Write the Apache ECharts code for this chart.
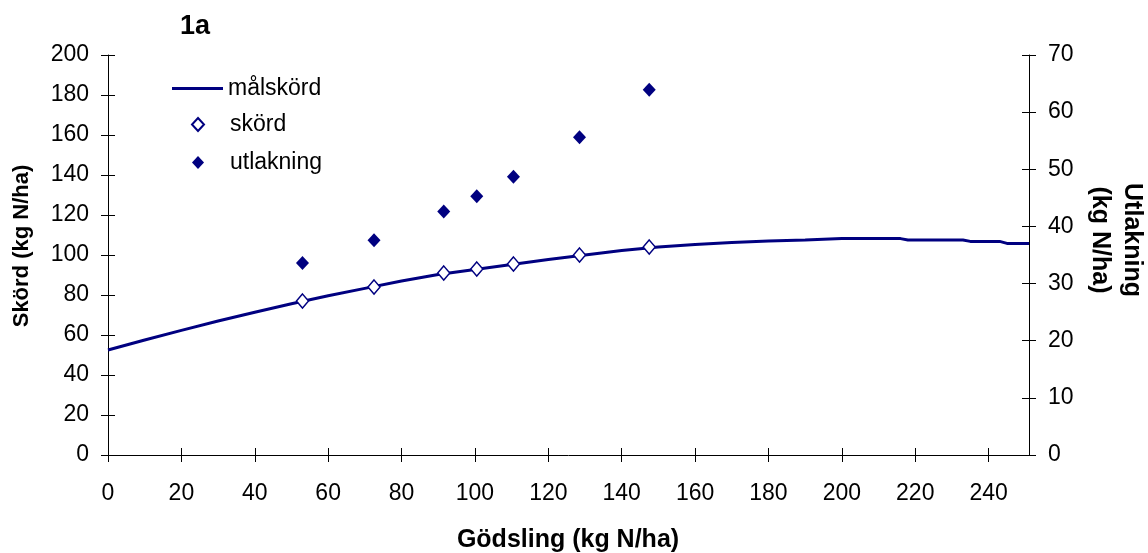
<!DOCTYPE html>
<html>
<head>
<meta charset="utf-8">
<script src="https://cdn.jsdelivr.net/npm/echarts@6/dist/echarts.min.js"></script>
<style>
html,body{margin:0;padding:0;background:#fff;}
#chart{width:1148px;height:553px;}
</style>
</head>
<body>
<div id="chart"></div>
<script>
// ---- data ----
const curveN = [0, 10, 20, 30, 40, 50, 60, 70, 80, 90, 100, 110, 120, 130, 140, 150, 160, 170, 180, 190, 200, 216, 218, 233, 235, 243, 245, 251];
const maalskord = [52.5, 57.5, 62.3, 67.0, 71.4, 75.6, 79.6, 83.3, 87.0, 90.3, 92.8, 95.2, 97.7, 100.0, 102.2, 104.0, 105.3, 106.3, 107.0, 107.5, 108.2, 108.2, 107.5, 107.5, 106.8, 106.8, 105.8, 105.8];
const pointN = [53, 72.5, 91.5, 100.5, 110.5, 128.5, 147.5];
const skord = [77, 84, 91, 93, 95.5, 100, 104];
const utlakning = [33.6, 37.6, 42.6, 45.3, 48.7, 55.6, 63.9];
const xTicks = {min: 0, max: 251, interval: 20};
const yLeftTicks = {min: 0, max: 200, interval: 20};
const yRightTicks = {min: 0, max: 70, interval: 10};

// ---- chart ----
const F = '"Liberation Sans", Arial, sans-serif';
const NAVY = '#000080';
const chart = echarts.init(document.getElementById('chart'), null, {renderer: 'canvas'});

function axisBase(t) {
  return {
    type: 'value', min: t.min, max: t.max, interval: t.interval,
    splitLine: {show: false},
    axisLine: {show: true, onZero: false, lineStyle: {color: '#000', width: 1}},
    axisTick: {show: true, length: 7, lineStyle: {color: '#000', width: 1}},
  };
}
function labelStyle(margin) {
  return {show: true, fontFamily: F, fontSize: 23, color: '#000', margin: margin, showMaxLabel: true};
}
function innerTicks(a) {
  a.axisLine = {show: false, onZero: false};
  a.axisLabel = {show: false};
  a.axisTick = {show: true, inside: true, length: 7, lineStyle: {color: '#000', width: 1}};
  return a;
}

const xMain = Object.assign(axisBase(xTicks), {position: 'bottom', axisLabel: Object.assign(labelStyle(27), {showMaxLabel: false})});
const xInner = innerTicks(Object.assign(axisBase(xTicks), {position: 'bottom'}));
const yL = Object.assign(axisBase(yLeftTicks), {position: 'left', axisLabel: labelStyle(19)});
const yR = Object.assign(axisBase(yRightTicks), {position: 'right', axisLabel: labelStyle(19)});
const yLIn = innerTicks(Object.assign(axisBase(yLeftTicks), {position: 'left'}));
const yRIn = innerTicks(Object.assign(axisBase(yRightTicks), {position: 'right'}));

const option = {
  animation: false,
  backgroundColor: '#fff',
  grid: {left: 108, right: 119, top: 55, bottom: 98, containLabel: false},
  title: {
    text: '1a', left: 175, top: 8,
    textStyle: {fontFamily: F, fontSize: 27, fontWeight: 'bold', color: '#000'}
  },
  legend: [
    {
      data: [{name: 'målskörd', icon: 'rect'}], left: 167, top: 72, orient: 'vertical',
      itemWidth: 51, itemHeight: 3,
      textStyle: {fontFamily: F, fontSize: 23, color: '#000', lineHeight: 22}
    },
    {
      data: ['skörd', 'utlakning'], left: 186, top: 108, orient: 'vertical',
      itemWidth: 12, itemHeight: 13, itemGap: 15,
      textStyle: {fontFamily: F, fontSize: 23, color: '#000', lineHeight: 22, padding: [0, 0, 0, 21]}
    }
  ],
  xAxis: [xMain, xInner],
  yAxis: [yL, yR, yLIn, yRIn],
  graphic: [
    {type: 'text', x: 568, y: 540, style: {text: 'Gödsling (kg N/ha)', font: 'bold 25px ' + F, fill: '#000', textAlign: 'center', textVerticalAlign: 'middle'}},
    {type: 'text', x: 22, y: 246, rotation: Math.PI / 2, style: {text: 'Skörd (kg N/ha)', font: 'bold 22px ' + F, fill: '#000', textAlign: 'center', textVerticalAlign: 'middle'}},
    {type: 'text', x: 1116, y: 240, rotation: -Math.PI / 2, style: {text: 'Utlakning\n(kg N/ha)', font: 'bold 25px ' + F, fill: '#000', textAlign: 'center', textVerticalAlign: 'middle', lineHeight: 32}}
  ],
  series: [
    {
      name: 'målskörd', type: 'line', xAxisIndex: 0, yAxisIndex: 0,
      data: curveN.map((n, i) => [n, maalskord[i]]),
      showSymbol: false, symbol: 'none', smooth: false,
      lineStyle: {color: NAVY, width: 3},
      itemStyle: {color: NAVY},
      z: 2
    },
    {
      name: 'skörd', type: 'scatter', xAxisIndex: 0, yAxisIndex: 0,
      data: pointN.map((n, i) => [n, skord[i]]),
      symbol: 'diamond', symbolSize: [12, 14],
      itemStyle: {color: '#fff', borderColor: NAVY, borderWidth: 1.5, opacity: 1},
      z: 3
    },
    {
      name: 'utlakning', type: 'scatter', xAxisIndex: 0, yAxisIndex: 1,
      data: pointN.map((n, i) => [n, utlakning[i]]),
      symbol: 'diamond', symbolSize: [13, 14],
      itemStyle: {color: NAVY, opacity: 1},
      z: 3
    }
  ]
};
chart.setOption(option);
</script>
</body>
</html>
